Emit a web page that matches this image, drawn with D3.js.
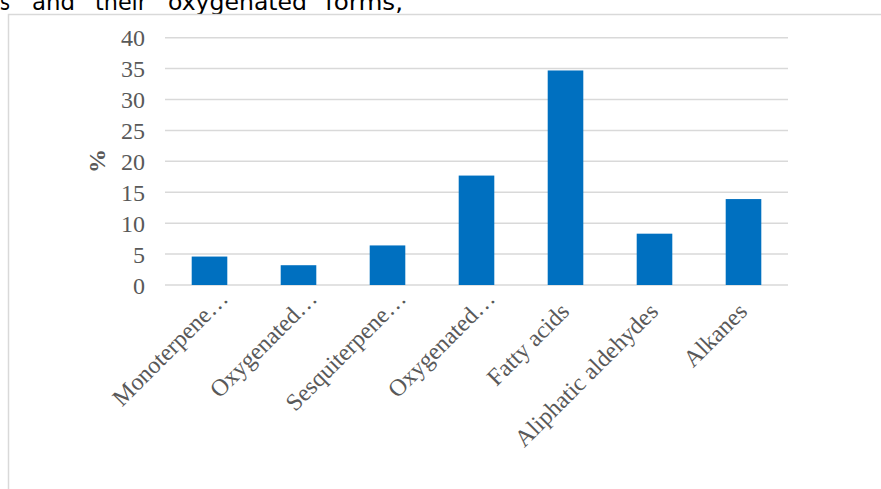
<!DOCTYPE html>
<meta charset="utf-8">
<script src="https://d3js.org/d3.v7.min.js"></script>
<style>
  body { margin: 0; background: #fff; }
  svg { display: block; }
</style>
<body>
<svg width="881" height="489"></svg>
</body>
<script>

// data
var categories = ["Monoterpene…", "Oxygenated…", "Sesquiterpene…", "Oxygenated…",
                  "Fatty acids", "Aliphatic aldehydes", "Alkanes"];
var percents = [4.6, 3.2, 6.4, 17.7, 34.7, 8.3, 13.9];
var yTicks = [0, 5, 10, 15, 20, 25, 30, 35, 40];
var topWords = ["s", "and", "their", "oxygenated", "forms,"];
var topWordX = [0, 32, 95, 168, 325];
var topWordW = [10, 43, 52, 139, 78];

var svg = d3.select("svg"),
    gridColor = "#d9d9d9",
    textColor = "#595959",
    barColor = "#0070c0";

svg.append("rect").attr("width", 881).attr("height", 489).attr("fill", "#fff");

// paragraph text above the chart frame (cut by the page top, as in the source)
svg.append("g")
    .attr("font-family", "'DejaVu Sans', Verdana, sans-serif")
    .attr("font-size", 23)
    .attr("fill", "#000")
  .selectAll("text")
  .data(topWords)
  .enter().append("text")
    .attr("x", function(d, i) { return topWordX[i]; })
    .attr("y", 10)
    .attr("textLength", function(d, i) { return topWordW[i]; })
    .attr("lengthAdjust", "spacingAndGlyphs")
    .text(function(d) { return d; });

// chart frame
svg.append("path")
    .attr("d", "M8.5,489V14.5H881")
    .attr("fill", "none")
    .attr("stroke", gridColor)
    .attr("stroke-width", 1.5);

var x = d3.scaleBand()
    .domain(d3.range(categories.length))
    .range([165, 788])
    .paddingInner(0.6)
    .paddingOuter(0.3);

var y = d3.scaleLinear()
    .domain([0, 40])
    .range([285, 37.7]);

// gridlines
svg.append("g")
  .selectAll("line")
  .data(yTicks)
  .enter().append("line")
    .attr("x1", 165)
    .attr("x2", 788)
    .attr("y1", function(d) { return y(d); })
    .attr("y2", function(d) { return y(d); })
    .attr("stroke", gridColor)
    .attr("stroke-width", 1.5);

// y axis labels
var yAxis = svg.append("g")
    .attr("transform", "translate(165,0)")
    .call(d3.axisLeft(y).tickValues(yTicks).tickSize(0).tickPadding(20));
yAxis.select(".domain").remove();
yAxis.selectAll("text")
    .attr("font-family", "'Liberation Serif', 'Times New Roman', serif")
    .attr("font-size", 24)
    .attr("fill", textColor)
    .attr("dy", "0.34em");

svg.append("text")
    .attr("transform", "translate(97,161) rotate(-90)")
    .attr("text-anchor", "middle")
    .attr("dy", "0.35em")
    .attr("font-family", "'Liberation Serif', 'Times New Roman', serif")
    .attr("font-size", 24)
    .attr("font-weight", "bold")
    .attr("fill", textColor)
    .text("%");

// bars
svg.append("g")
  .selectAll("rect")
  .data(percents)
  .enter().append("rect")
    .attr("x", function(d, i) { return x(i); })
    .attr("y", function(d) { return y(d); })
    .attr("width", x.bandwidth())
    .attr("height", function(d) { return y(0) - y(d); })
    .attr("fill", barColor);

// category labels, rotated
svg.append("g")
    .attr("font-family", "'Liberation Serif', 'Times New Roman', serif")
    .attr("font-size", 24)
    .attr("fill", textColor)
    .attr("text-anchor", "end")
  .selectAll("text")
  .data(categories)
  .enter().append("text")
    .attr("transform", function(d, i) {
      var cut = d.slice(-1) == "…";
      var cx = x(i) + x.bandwidth() / 2 + (cut ? 20 : 5);
      var cy = cut ? 300 : 313;
      return "translate(" + cx + "," + cy + ") rotate(-45)";
    })
    .text(function(d) { return d; });

</script>
